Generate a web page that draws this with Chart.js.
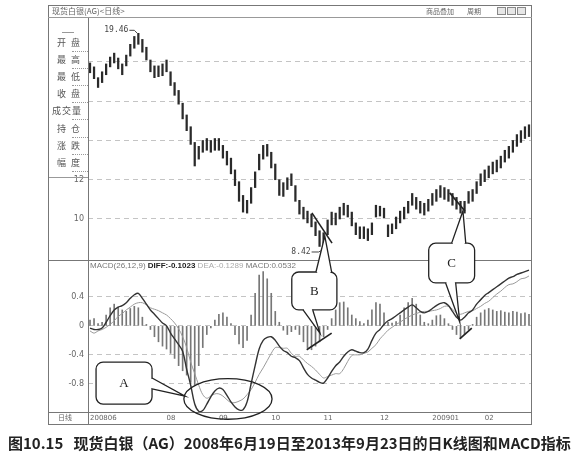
<!DOCTYPE html>
<html lang="zh">
<head>
<meta charset="utf-8">
<title>现货白银 日K线与MACD</title>
<script src="https://cdn.jsdelivr.net/npm/chart.js@4.4.1/dist/chart.umd.min.js"></script>
<style>
  body { margin: 0; background: #fff; }
  #wrap { position: relative; width: 583px; height: 462px; overflow: hidden; font-family: "Noto Sans CJK SC", "DejaVu Sans", sans-serif; color: #555; }
  #c { position: absolute; left: 0; top: 0; }
  .abs { position: absolute; white-space: nowrap; }
  #frame { left: 48px; top: 5px; width: 484px; height: 420px; border: 1px solid #777; box-sizing: border-box; }
  #tbar { left: 48px; top: 17px; width: 484px; border-top: 1px solid #999; }
  #ttl { left: 52px; top: 6px; font-size: 8px; line-height: 10px; color: #666; }
  .tool { top: 6px; font-size: 7px; line-height: 10px; color: #666; }
  .btn { top: 7px; width: 9px; height: 8px; border: 1px solid #888; background: #e6e6e6; box-sizing: border-box; }
  #side { left: 49px; top: 18px; width: 39px; height: 160px; border-bottom: 1px solid #999; box-sizing: border-box; }
  .lab { font-size: 9px; line-height: 10px; color: #555; }
  .dot { border-top: 1px dotted #999; width: 16px; left: 72px; }
  #macdTitle { left: 90px; top: 261px; font-family: "Liberation Sans", Arial, sans-serif; font-size: 8px; line-height: 10px; color: #777; }
  #macdTitle b { color: #222; }
  #macdTitle .l { color: #aaa; }
  #daily { left: 58px; top: 413px; font-size: 7px; line-height: 9px; color: #666; }
  #cap { left: 8px; top: 434px; font-size: 15px; line-height: 17px; font-weight: 700; color: #222; }
</style>
</head>
<body>
<div id="wrap">
  <canvas id="c" width="583" height="462"></canvas>
  <div class="abs" id="frame"></div>
  <div class="abs" id="tbar"></div>
  <div class="abs" id="ttl">现货白银(AG)&lt;日线&gt;</div>
  <div class="abs tool" style="left:426px">商品叠加</div>
  <div class="abs tool" style="left:467px">周期</div>
  <div class="abs btn" style="left:497px"></div>
  <div class="abs btn" style="left:507px"></div>
  <div class="abs btn" style="left:517px"></div>
  <div class="abs" id="side"></div>
  <div class="abs" id="macdTitle">MACD(26,12,9) <b>DIFF:-0.1023</b> <span class="l">DEA:-0.1289</span> MACD:0.0532</div>
  <div class="abs" id="daily">日线</div>
  <div class="abs" id="cap">图10.15&nbsp;&nbsp;&nbsp;现货白银（AG）2008年6月19日至2013年9月23日的日K线图和MACD指标</div>
</div>
<script>
// daily bars, 2008-06-19 .. 2009-02
var high = [17.95,17.75,17.2,17.5,17.9,18.25,18.45,18.2,17.9,18.35,
  18.9,19.3,19.46,19.15,18.75,18.1,17.8,17.8,17.9,18.1,
  17.5,16.95,16.55,15.9,15.3,14.7,13.9,13.7,14.0,14.1,
  14.0,14.1,14.1,13.75,13.45,13.1,12.5,11.9,11.2,10.95,
  11.6,12.4,13.3,13.75,13.8,13.4,12.8,12.0,11.85,12.1,
  12.3,11.7,10.95,10.6,10.4,10.25,9.85,9.4,9.3,9.95,
  10.35,10.3,10.6,10.8,10.7,10.35,9.8,9.6,9.6,9.5,
  9.8,10.7,10.65,10.55,9.7,9.75,10.1,10.4,10.6,10.9,
  11.3,11.1,10.9,10.8,11.0,11.3,11.5,11.7,11.6,11.5,
  11.3,11.1,10.9,10.9,11.4,11.5,11.9,12.3,12.5,12.7,
  12.9,13.0,13.2,13.5,13.7,14.0,14.3,14.5,14.7,14.8];
var low = [17.45,17.15,16.7,16.95,17.35,17.75,17.95,17.65,17.35,17.8,
  18.3,18.7,18.9,18.5,18.1,17.5,17.2,17.25,17.3,17.5,
  16.8,16.3,15.85,15.1,14.5,13.8,12.7,13.05,13.4,13.5,
  13.4,13.5,13.5,13.1,12.75,12.3,11.7,10.9,10.35,10.3,
  10.8,11.6,12.5,13.05,13.2,12.6,12.0,11.2,11.15,11.5,
  11.7,10.9,10.25,10.0,9.8,9.6,9.15,8.6,8.42,9.2,
  9.7,9.7,10.0,10.2,10.1,9.65,9.2,9.0,9.0,8.9,
  9.2,10.1,10.15,10.05,9.1,9.25,9.5,9.8,10.0,10.3,
  10.7,10.5,10.3,10.2,10.4,10.7,10.9,11.1,11.0,10.9,
  10.7,10.5,10.3,10.3,10.8,10.9,11.3,11.7,11.9,12.1,
  12.3,12.4,12.6,12.9,13.1,13.4,13.7,13.9,14.1,14.2];
var hist = [0.08,0.1,0.03,0.05,0.15,0.25,0.3,0.26,0.22,0.2,
  0.24,0.27,0.25,0.12,0.02,-0.05,-0.15,-0.22,-0.28,-0.32,
  -0.38,-0.45,-0.55,-0.62,-0.68,-0.78,-0.82,-0.55,-0.3,-0.12,
  -0.03,0.08,0.16,0.18,0.12,0.03,-0.12,-0.25,-0.3,-0.2,
  0.15,0.45,0.7,0.75,0.65,0.45,0.2,0.05,-0.06,-0.12,
  -0.08,-0.05,-0.12,-0.22,-0.3,-0.33,-0.28,-0.22,-0.15,-0.05,
  0.1,0.22,0.32,0.33,0.25,0.15,0.1,0.06,0.03,0.08,
  0.22,0.32,0.3,0.18,0.05,0.04,0.06,0.15,0.25,0.32,
  0.38,0.3,0.15,0.05,0.03,0.08,0.14,0.15,0.1,0.03,
  -0.05,-0.12,-0.17,-0.12,-0.05,0.02,0.12,0.18,0.22,0.24,
  0.22,0.2,0.21,0.19,0.18,0.2,0.19,0.17,0.18,0.16];
var diff = [-0.03,-0.05,-0.05,-0.03,0.05,0.14,0.22,0.26,0.28,0.32,
  0.38,0.43,0.45,0.38,0.3,0.22,0.16,0.1,0.04,0.0,
  -0.1,-0.18,-0.26,-0.35,-0.6,-0.82,-1.08,-1.18,-1.17,-1.08,
  -0.98,-0.9,-0.86,-0.88,-0.96,-1.05,-1.12,-1.16,-1.16,-1.05,
  -0.8,-0.55,-0.32,-0.2,-0.16,-0.15,-0.2,-0.28,-0.34,-0.37,
  -0.42,-0.44,-0.48,-0.58,-0.67,-0.72,-0.75,-0.78,-0.79,-0.72,
  -0.63,-0.55,-0.5,-0.42,-0.36,-0.33,-0.35,-0.37,-0.37,-0.32,
  -0.2,-0.1,-0.05,0.02,0.07,0.1,0.14,0.18,0.22,0.26,
  0.29,0.25,0.2,0.18,0.2,0.24,0.28,0.31,0.32,0.28,
  0.2,0.12,0.08,0.12,0.18,0.22,0.3,0.36,0.42,0.46,
  0.5,0.54,0.58,0.62,0.66,0.68,0.71,0.73,0.75,0.77];
var dea = [-0.07,-0.1,-0.07,-0.05,-0.02,0.02,0.07,0.13,0.17,0.22,
  0.26,0.3,0.32,0.32,0.29,0.25,0.23,0.21,0.18,0.15,
  0.1,0.04,-0.04,-0.15,-0.3,-0.5,-0.66,-0.82,-0.95,-1.0,
  -0.97,-0.94,-0.94,-0.97,-1.02,-1.06,-1.06,-1.04,-1.01,-0.95,
  -0.88,-0.78,-0.67,-0.58,-0.48,-0.38,-0.3,-0.3,-0.31,-0.31,
  -0.38,-0.42,-0.42,-0.47,-0.52,-0.56,-0.61,-0.67,-0.72,-0.7,
  -0.68,-0.66,-0.66,-0.59,-0.49,-0.41,-0.4,-0.4,-0.38,-0.36,
  -0.31,-0.26,-0.18,-0.12,-0.06,-0.02,0.02,0.05,0.09,0.12,
  0.15,0.17,0.19,0.2,0.2,0.21,0.22,0.24,0.27,0.27,
  0.23,0.18,0.16,0.18,0.2,0.21,0.24,0.27,0.31,0.34,
  0.39,0.44,0.48,0.53,0.57,0.58,0.61,0.65,0.66,0.69];

var monthIdx = [0, 19, 32, 45, 58, 72, 85, 98];
var monthText = ['200806', '08', '09', '10', '11', '12', '200901', '02'];
var priceTicks = [10, 12, 14, 16, 18];
var macdTicks = [-0.8, -0.4, 0, 0.4];
var sideRows = [['开', '盘'], ['最', '高'], ['最', '低'], ['收', '盘'], ['成交量'], ['持', '仓'], ['涨', '跌'], ['幅', '度']];

var labels = high.map(function () { return ''; });
monthIdx.forEach(function (k, j) { labels[k] = monthText[j]; });

// left caption panel
var wrap = document.getElementById('wrap');
function addDiv(cls, css, txt) {
  var d = document.createElement('div');
  d.className = 'abs ' + cls;
  d.style.cssText = css;
  if (txt) d.textContent = txt;
  wrap.appendChild(d);
}
addDiv('', 'left:62px;top:32px;width:12px;border-top:1px solid #999');
sideRows.forEach(function (r, k) {
  var y = 38 + k * 17.1;
  if (r.length === 1) {
    addDiv('lab', 'left:52px;top:' + y + 'px;letter-spacing:1px', r[0]);
  } else {
    addDiv('lab', 'left:57px;top:' + y + 'px', r[0]);
    addDiv('lab', 'left:71px;top:' + y + 'px', r[1]);
  }
  addDiv('dot', 'top:' + (y + 13) + 'px');
});

var notes = {
  id: 'notes',
  afterDraw: function (chart) {
    var ctx = chart.ctx, xs = chart.scales.x, area = chart.chartArea;
    var P = chart.scales.yP;
    function at(i, s, v) { return [xs.getPixelForValue(i), chart.scales[s].getPixelForValue(v)]; }
    function seg(a, b) { ctx.beginPath(); ctx.moveTo(a[0], a[1]); ctx.lineTo(b[0], b[1]); ctx.stroke(); }
    ctx.save();
    // panel separators and axis line
    ctx.strokeStyle = '#777';
    ctx.lineWidth = 1;
    seg([area.left - 40, Math.round(P.bottom) + 0.5], [area.right, Math.round(P.bottom) + 0.5]);
    seg([area.left - 40, Math.round(area.bottom) + 0.5], [area.right, Math.round(area.bottom) + 0.5]);
    seg([Math.round(area.left) + 0.5, area.top], [Math.round(area.left) + 0.5, xs.bottom]);

    // high / low labels
    ctx.fillStyle = '#444';
    ctx.strokeStyle = '#444';
    ctx.font = '8px "DejaVu Sans Mono"';
    ctx.textBaseline = 'middle';
    ctx.textAlign = 'right';
    var hp = at(12, 'yP', 19.46);
    ctx.fillText('19.46', hp[0] - 10, hp[1] - 3);
    ctx.beginPath(); ctx.moveTo(hp[0] - 9, hp[1] - 3); ctx.lineTo(hp[0] - 4, hp[1] - 3); ctx.lineTo(hp[0] - 1, hp[1]); ctx.stroke();
    var lp = at(58, 'yP', 8.42);
    ctx.fillText('8.42', lp[0] - 13, lp[1] + 2);
    ctx.beginPath(); ctx.moveTo(lp[0] - 12, lp[1] + 2); ctx.lineTo(lp[0] - 5, lp[1] + 2); ctx.lineTo(lp[0] - 1, lp[1]); ctx.stroke();

    // hand drawn trend lines
    ctx.strokeStyle = '#222';
    ctx.lineWidth = 1.6;
    seg(at(55.1, 'yP', 10.31), at(60.1, 'yP', 8.77));
    seg(at(89.3, 'yP', 11.33), at(93.1, 'yP', 10.41));
    seg(at(53.8, 'yM', -0.33), at(60.0, 'yM', -0.1));
    seg(at(91.8, 'yM', -0.18), at(94.8, 'yM', -0.03));

    // ellipse round the double bottom
    var e0 = at(23.3, 'yM', -0.73), e1 = at(45.2, 'yM', -1.29);
    ctx.lineWidth = 1.3;
    ctx.beginPath();
    ctx.ellipse((e0[0] + e1[0]) / 2, (e0[1] + e1[1]) / 2, (e1[0] - e0[0]) / 2, (e1[1] - e0[1]) / 2, 0, 0, Math.PI * 2);
    ctx.stroke();

    function bubble(tl, br, ptrs, letter) {
      var x0 = tl[0], y0 = tl[1], x1 = br[0], y1 = br[1], r = 7;
      ctx.beginPath();
      ctx.moveTo(x0 + r, y0);
      ctx.arcTo(x1, y0, x1, y1, r);
      ctx.arcTo(x1, y1, x0, y1, r);
      ctx.arcTo(x0, y1, x0, y0, r);
      ctx.arcTo(x0, y0, x1, y0, r);
      ctx.closePath();
      ctx.fillStyle = '#fff';
      ctx.fill();
      ctx.strokeStyle = '#222';
      ctx.lineWidth = 1.3;
      ctx.stroke();
      ptrs.forEach(function (p) {
        ctx.beginPath();
        ctx.moveTo(p[0][0], p[0][1]); ctx.lineTo(p[2][0], p[2][1]); ctx.lineTo(p[1][0], p[1][1]);
        ctx.closePath();
        ctx.fillStyle = '#fff';
        ctx.fill();
        ctx.strokeStyle = '#fff';
        ctx.lineWidth = 2.4;
        seg([p[0][0] + (p[1][0] - p[0][0]) * 0.08, p[0][1] + (p[1][1] - p[0][1]) * 0.08],
            [p[1][0] - (p[1][0] - p[0][0]) * 0.08, p[1][1] - (p[1][1] - p[0][1]) * 0.08]);
        ctx.strokeStyle = '#222';
        ctx.lineWidth = 1.3;
        ctx.beginPath();
        ctx.moveTo(p[0][0], p[0][1]); ctx.lineTo(p[2][0], p[2][1]); ctx.lineTo(p[1][0], p[1][1]);
        ctx.stroke();
      });
      ctx.fillStyle = '#222';
      ctx.font = '13px "Liberation Serif"';
      ctx.textAlign = 'center';
      ctx.textBaseline = 'middle';
      ctx.fillText(letter, (x0 + x1) / 2, (y0 + y1) / 2 + 1);
    }
    bubble(at(1.5, 'yM', -0.5), at(15.4, 'yM', -1.08),
      [[at(15.4, 'yM', -0.72), at(15.4, 'yM', -0.87), at(23.6, 'yM', -0.97)]], 'A');
    bubble(at(50.1, 'yM', 0.744), at(61.3, 'yM', 0.22),
      [[at(56.1, 'yM', 0.744), at(60.0, 'yM', 0.744), at(58.3, 'yP', 9.13)],
       [at(52.9, 'yM', 0.22), at(55.3, 'yM', 0.22), at(57.1, 'yM', -0.1)]], 'B');
    bubble(at(84.1, 'yP', 8.77), at(95.5, 'yM', 0.593),
      [[at(89.8, 'yP', 8.77), at(93.3, 'yP', 8.77), at(92.6, 'yP', 10.41)],
       [at(88.3, 'yM', 0.593), at(90.8, 'yM', 0.593), at(91.8, 'yM', 0.054)]], 'C');
    ctx.restore();
  }
};

var tickFont = { family: 'DejaVu Sans', size: 8 };
var ctx = document.getElementById('c').getContext('2d');
var chart = new Chart(ctx, {
  type: 'bar',
  data: {
    labels: labels,
    datasets: [
      {
        label: 'K线',
        data: low.map(function (l, k) { return [l, high[k]]; }),
        yAxisID: 'yP',
        backgroundColor: '#2a2a2a',
        barThickness: 1.6,
        grouped: false,
        order: 3,
      },
      {
        label: 'MACD',
        data: hist,
        yAxisID: 'yM',
        backgroundColor: '#777',
        barThickness: 1,
        grouped: false,
        order: 4,
      },
      {
        type: 'line',
        label: 'DIFF',
        data: diff,
        yAxisID: 'yM',
        borderColor: '#333',
        borderWidth: 1.4,
        pointRadius: 0,
        tension: 0.35,
        order: 1,
      },
      {
        type: 'line',
        label: 'DEA',
        data: dea,
        yAxisID: 'yM',
        borderColor: '#9a9a9a',
        borderWidth: 1,
        pointRadius: 0,
        tension: 0.35,
        order: 2,
      },
    ],
  },
  options: {
    responsive: false,
    animation: false,
    layout: { padding: { left: 48, right: 52, top: 18, bottom: 38 } },
    plugins: { legend: { display: false }, tooltip: { enabled: false } },
    scales: {
      x: {
        grid: { display: false, drawTicks: false },
        border: { display: false },
        ticks: {
          autoSkip: false, maxRotation: 0, align: 'start', padding: 2,
          color: '#666', font: { family: 'DejaVu Sans', size: 7 },
        },
        afterFit: function (s) { s.height = 12; },
      },
      yP: {
        position: 'left',
        stack: 'panes',
        stackWeight: 242,
        weight: 2,
        min: 7.91,
        max: 20.24,
        grid: { color: '#c4c4c4', drawTicks: false },
        border: { display: false, dash: [5, 4] },
        afterBuildTicks: function (s) { s.ticks = priceTicks.map(function (v) { return { value: v }; }); },
        ticks: {
          padding: 4, color: '#666', font: tickFont,
          callback: function (v) { return v <= 12 ? String(v) : ''; },
        },
        afterFit: function (s) { s.width = 40; },
      },
      yM: {
        position: 'left',
        stack: 'panes',
        stackWeight: 152,
        weight: 1,
        min: -1.19,
        max: 0.91,
        grid: { color: '#c4c4c4', drawTicks: false },
        border: { display: false, dash: [5, 4] },
        afterBuildTicks: function (s) { s.ticks = macdTicks.map(function (v) { return { value: v }; }); },
        ticks: {
          padding: 4, color: '#666', font: tickFont,
          callback: function (v) { return String(v); },
        },
        afterFit: function (s) { s.width = 40; },
      },
    },
  },
  plugins: [notes],
});
</script>
</body>
</html>
